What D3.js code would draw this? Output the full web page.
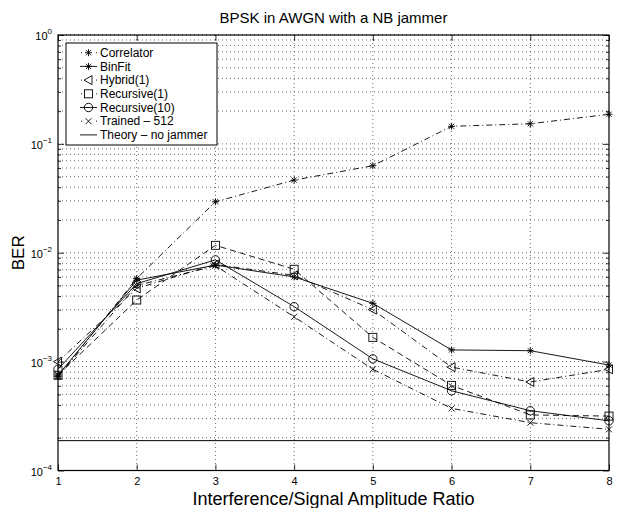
<!DOCTYPE html>
<html><head><meta charset="utf-8">
<script src="https://cdn.jsdelivr.net/npm/d3@7"></script>
<style>
body{margin:0;background:#fff;}
text{font-family:"Liberation Sans",Arial,sans-serif;fill:#000;}
</style></head>
<body><svg id="c" width="624" height="508"></svg>
<script>
const ratios = [1,2,3,4,5,6,7,8];
const correlator   = [7.3e-4, 5.8e-3, 2.94e-2, 4.65e-2, 6.3e-2, 0.145, 0.153, 0.187];
const binFit       = [7.5e-4, 5.6e-3, 7.7e-3, 6.0e-3, 3.43e-3, 1.28e-3, 1.26e-3, 9.3e-4];
const hybrid1      = [1.0e-3, 4.7e-3, 7.8e-3, 6.2e-3, 3.0e-3, 8.9e-4, 6.5e-4, 8.5e-4];
const recursive1   = [7.5e-4, 3.68e-3, 1.17e-2, 7.05e-3, 1.67e-3, 6.05e-4, 3.24e-4, 3.16e-4];
const recursive10  = [8.5e-4, 5.2e-3, 8.6e-3, 3.2e-3, 1.06e-3, 5.4e-4, 3.54e-4, 2.86e-4];
const trained512   = [7.3e-4, 5.0e-3, 7.6e-3, 2.58e-3, 8.5e-4, 3.72e-4, 2.75e-4, 2.39e-4];
const theoryNoJam  = 1.88e-4;
const seriesNames  = ["Correlator","BinFit","Hybrid(1)","Recursive(1)","Recursive(10)","Trained \u2013 512","Theory \u2013 no jammer"];
const xTicks = [1,2,3,4,5,6,7,8];
const yDecades = [-4,-3,-2,-1,0];
const titleText = "BPSK in AWGN with a NB jammer";
const xLabelText = "Interference/Signal Amplitude Ratio";
const yLabelText = "BER";

const series = [
  {name: seriesNames[0], values: correlator, marker: "star", dash: "6,3,1,3"},
  {name: seriesNames[1], values: binFit, marker: "star", dash: null},
  {name: seriesNames[2], values: hybrid1, marker: "tri", dash: "6,3,1,3"},
  {name: seriesNames[3], values: recursive1, marker: "square", dash: "6,4"},
  {name: seriesNames[4], values: recursive10, marker: "circle", dash: null},
  {name: seriesNames[5], values: trained512, marker: "x", dash: "6,3,1,3"}
];

const m = {l:58, r:609, t:35, b:470.5};
const svg = d3.select("#c");
const x = d3.scaleLinear().domain([1,8]).range([m.l, m.r]);
const y = d3.scaleLog().domain([1e-4, 1]).range([m.b, m.t]);

// grid
const g = svg.append("g");
const yGridVals = y.ticks();
g.selectAll("line.hg").data(yGridVals).enter().append("line")
  .attr("x1", m.l).attr("x2", m.r).attr("y1", d=>y(d)).attr("y2", d=>y(d))
  .attr("stroke", "#444").attr("stroke-width", 0.8).attr("stroke-dasharray", "1,3");
g.selectAll("line.vg").data(xTicks.slice(1,-1)).enter().append("line")
  .attr("y1", m.t).attr("y2", m.b).attr("x1", d=>x(d)).attr("x2", d=>x(d))
  .attr("stroke", "#444").attr("stroke-width", 0.8).attr("stroke-dasharray", "1,3");

// axes ticks (inward) using d3 axes
const isMajor = d => Math.abs(Math.log10(d) - Math.round(Math.log10(d))) < 1e-9;
function yAxisTicks(axisGen, xpos){
  const ax = svg.append("g").attr("transform", `translate(${xpos},0)`).call(axisGen);
  ax.select(".domain").remove();
  ax.selectAll(".tick text").remove();
  ax.selectAll(".tick line").attr("stroke", "#000").attr("stroke-width", 0.8);
  return ax;
}
const yl = d3.axisLeft(y).tickValues(yGridVals).tickSizeInner(0);
const axL = yAxisTicks(yl, m.l);
axL.selectAll(".tick line").attr("x2", d => isMajor(d) ? 6 : 3);
const yr = d3.axisRight(y).tickValues(yGridVals).tickSizeInner(0);
const axR = yAxisTicks(yr, m.r);
axR.selectAll(".tick line").attr("x2", d => isMajor(d) ? -6 : -3);

const xb = svg.append("g").attr("transform", `translate(0,${m.b})`)
  .call(d3.axisBottom(x).tickValues(xTicks).tickSizeInner(-6).tickSizeOuter(0).tickPadding(6.7).tickFormat(d3.format("d")));
xb.select(".domain").remove();
xb.selectAll(".tick line").attr("stroke", "#000").attr("stroke-width", 0.8);
xb.selectAll(".tick text").style("font-size", "11px").attr("fill", "#000");
const xt = svg.append("g").attr("transform", `translate(0,${m.t})`)
  .call(d3.axisTop(x).tickValues(xTicks).tickSizeInner(-6).tickSizeOuter(0));
xt.select(".domain").remove();
xt.selectAll(".tick text").remove();
xt.selectAll(".tick line").attr("stroke", "#000").attr("stroke-width", 0.8);

// y tick labels 10^n
yDecades.forEach(e => {
  const t = svg.append("text").attr("x", m.l - 6).attr("y", y(Math.pow(10, e)) + 5)
    .attr("text-anchor", "end").style("font-size", "11px");
  t.append("tspan").text("10");
  t.append("tspan").attr("dy", -6).style("font-size", "8px").text(e === 0 ? "0" : "\u2212" + Math.abs(e));
});

// frame
svg.append("rect").attr("x", m.l).attr("y", m.t).attr("width", m.r - m.l).attr("height", m.b - m.t)
  .attr("fill", "none").attr("stroke", "#000").attr("stroke-width", 1.2);

// theory line
svg.append("line").attr("x1", m.l).attr("x2", m.r).attr("y1", y(theoryNoJam)).attr("y2", y(theoryNoJam))
  .attr("stroke", "#000").attr("stroke-width", 1);

// markers
function drawMarker(sel, type, cx, cy){
  const s = sel.append("g").attr("transform", `translate(${cx},${cy})`)
    .attr("fill", "none").attr("stroke", "#000").attr("stroke-width", 0.9);
  if (type === "star"){
    const r = 3.5, d = 2.6;
    s.append("path").attr("d", `M${-r},0H${r}M0,${-r}V${r}M${-d},${-d}L${d},${d}M${-d},${d}L${d},${-d}`);
  } else if (type === "tri"){
    s.append("path").attr("d", "M-4.5,0L3.5,-4.5L3.5,4.5Z");
  } else if (type === "square"){
    s.append("rect").attr("x", -4).attr("y", -4).attr("width", 8).attr("height", 8);
  } else if (type === "circle"){
    s.append("circle").attr("r", 4.2);
  } else if (type === "x"){
    s.append("path").attr("d", "M-3,-3L3,3M-3,3L3,-3");
  }
}

const line = d3.line().x((d,i)=>x(ratios[i])).y(d=>y(d));
series.forEach(s => {
  svg.append("path").datum(s.values).attr("d", line)
    .attr("fill", "none").attr("stroke", "#000").attr("stroke-width", 0.9)
    .attr("stroke-dasharray", s.dash);
  s.values.forEach((v,i) => drawMarker(svg, s.marker, x(ratios[i]), y(v)));
});

// legend
const lg = svg.append("g");
lg.append("rect").attr("x", 66).attr("y", 43).attr("width", 151).attr("height", 102)
  .attr("fill", "#fff").attr("stroke", "#000").attr("stroke-width", 1);
const legendItems = series.concat([{name: seriesNames[6], marker: null, dash: null}]);
legendItems.forEach((s, i) => {
  const ly = 52.7 + i * 13.7;
  lg.append("line").attr("x1", 80).attr("x2", 97).attr("y1", ly).attr("y2", ly)
    .attr("stroke", "#000").attr("stroke-width", 0.9)
    .attr("stroke-dasharray", s.dash ? "1,4" : null)
    .attr("stroke-dashoffset", s.dash ? -1 : 0);
  if (s.marker) {
    lg.append("rect").attr("x", 84).attr("y", ly-4.5).attr("width", 9).attr("height", 9).attr("fill", "#fff").attr("opacity", s.dash ? 1 : 0);
    drawMarker(lg, s.marker, 88.5, ly);
  }
  lg.append("text").attr("x", 100).attr("y", ly + 4.2).style("font-size", "12px").text(s.name);
});

// titles
svg.append("text").attr("x", (m.l + m.r)/2).attr("y", 23).attr("text-anchor", "middle")
  .style("font-size", "15px").text(titleText);
svg.append("text").attr("x", (m.l + m.r)/2).attr("y", 505).attr("text-anchor", "middle")
  .style("font-size", "18px").text(xLabelText);
svg.append("text").attr("transform", `translate(24,${(m.t+m.b)/2}) rotate(-90)`).attr("text-anchor", "middle")
  .style("font-size", "17px").text(yLabelText);
</script></body></html>
